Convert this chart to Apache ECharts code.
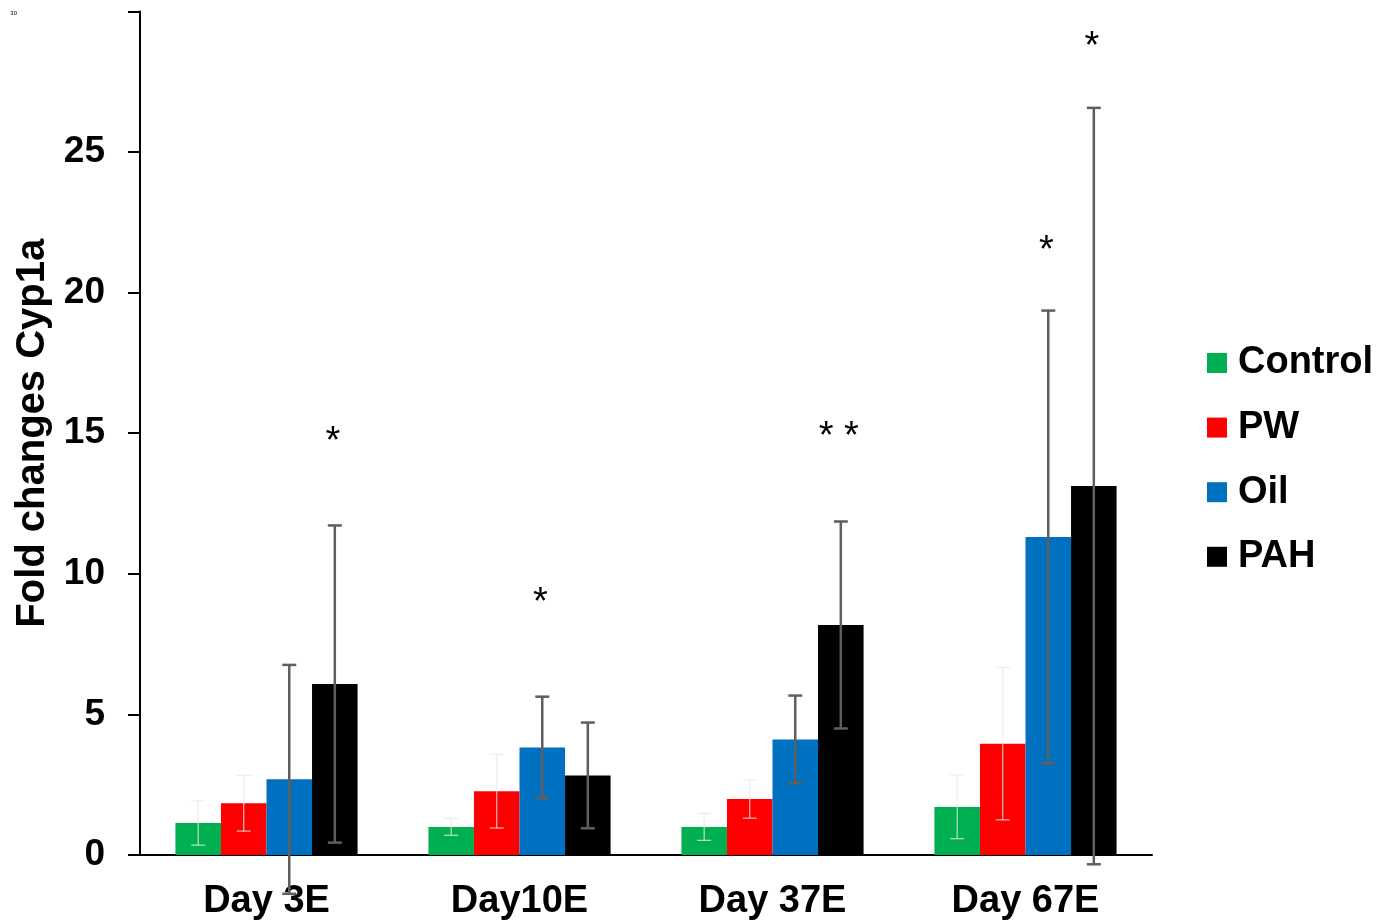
<!DOCTYPE html>
<html>
<head>
<meta charset="utf-8">
<script src="https://cdn.jsdelivr.net/npm/echarts@6/dist/echarts.min.js"></script>
<style>html,body{margin:0;padding:0;background:#fff;}#c{width:1395px;height:922px;}</style>
</head>
<body>
<div id="c"></div>
<script>
const categories = ['Day 3E', 'Day10E', 'Day 37E', 'Day 67E'];
const seriesNames = ['Control', 'PW', 'Oil', 'PAH'];
const seriesColors = ['#00B050', '#FF0000', '#0070C0', '#000000'];
const controlMean = [1.14, 1.00, 1.00, 1.71];
const pwMean = [1.84, 2.27, 1.99, 3.96];
const oilMean = [2.69, 3.82, 4.11, 11.31];
const pahMean = [6.08, 2.83, 8.18, 13.12];
const controlSD = [0.79, 0.30, 0.48, 1.13];
const pwSD = [0.99, 1.31, 0.68, 2.71];
const oilSD = [4.07, 1.81, 1.56, 8.05];
const pahSD = [5.64, 1.88, 3.68, 13.45];
const yTicks = [0, 5, 10, 15, 20, 25, 30];
const starCategory = ['Day 3E', 'Day10E', 'Day 37E', 'Day 67E', 'Day 67E'];
const starSeries = ['PAH', 'Oil', 'PAH', 'Oil', 'PAH'];
const starY = [14.9, 9.2, 15.1, 21.7, 28.95];
const starText = ['*', '*', '* *', '*', '*'];

const means = [controlMean, pwMean, oilMean, pahMean];
const sds = [controlSD, pwSD, oilSD, pahSD];
const FONT = '"Liberation Sans", Arial, Helvetica, sans-serif';
const CAT_GAP = 0.28;
const N = seriesNames.length;

function barCenter(api, catIdx, k) {
  const bandW = api.size([1, 0])[0];
  const bw = bandW * (1 - CAT_GAP) / N;
  return api.coord([catIdx, 0])[0] + (k - (N - 1) / 2) * bw;
}

const series = [];
seriesNames.forEach((name, k) => {
  series.push({
    name: name, type: 'bar', data: means[k],
    barGap: '0%', barCategoryGap: (CAT_GAP * 100) + '%',
    itemStyle: { color: seriesColors[k] },
    z: 2
  });
});
seriesNames.forEach((name, k) => {
  const faint = k < 2;
  series.push({
    name: name + ' err', type: 'custom', z: 5,
    data: means[k].map((m, i) => [i, m - sds[k][i], m + sds[k][i]]),
    encode: { x: 0, y: [1, 2] },
    renderItem: function (params, api) {
      const x = barCenter(api, api.value(0), k);
      const yl = api.coord([0, api.value(1)])[1];
      const yh = api.coord([0, api.value(2)])[1];
      const hw = 7;
      const style = { stroke: faint ? '#e8e8e8' : '#5f5f5f', lineWidth: faint ? 1.2 : 2.5, fill: null, opacity: faint ? 0.8 : 1 };
      return {
        type: 'group',
        children: [
          { type: 'line', shape: { x1: x, y1: yl, x2: x, y2: yh }, style: style },
          { type: 'line', shape: { x1: x - hw, y1: yh, x2: x + hw, y2: yh }, style: style },
          { type: 'line', shape: { x1: x - hw, y1: yl, x2: x + hw, y2: yl }, style: style }
        ]
      };
    }
  });
});
series.push({
  name: 'stars', type: 'custom', z: 6,
  data: starY.map((y, i) => [categories.indexOf(starCategory[i]), y]),
  encode: { x: 0, y: 1 },
  renderItem: function (params, api) {
    const i = params.dataIndex;
    const k = seriesNames.indexOf(starSeries[i]);
    const x = barCenter(api, api.value(0), k);
    const y = api.coord([0, api.value(1)])[1];
    return {
      type: 'text', x: x - 2, y: y + 7,
      style: { text: starText[i], fontSize: 38, fontFamily: FONT, fill: '#000', align: 'center', verticalAlign: 'middle' }
    };
  }
});

const chart = echarts.init(document.getElementById('c'));
chart.setOption({
  animation: false,
  backgroundColor: '#fff',
  grid: { left: 140, right: 243, top: 11.4, bottom: 67, containLabel: false, outerBoundsMode: 'none' },
  legend: {
    data: seriesNames, orient: 'vertical', left: 1202, top: 338,
    itemWidth: 20, itemHeight: 20, itemGap: 24.6, icon: 'rect',
    textStyle: { fontSize: 38, fontWeight: 'bold', color: '#000', fontFamily: FONT, lineHeight: 40, padding: [0, 0, 0, 6] }
  },
  xAxis: {
    type: 'category', data: categories,
    axisLine: { lineStyle: { color: '#000', width: 2 } },
    axisTick: { show: false },
    axisLabel: { fontSize: 38, fontWeight: 'bold', color: '#000', fontFamily: FONT, margin: 28 }
  },
  yAxis: {
    type: 'value', min: yTicks[0], max: yTicks[yTicks.length - 1], interval: yTicks[1] - yTicks[0],
    splitLine: { show: false },
    axisLine: { show: true, lineStyle: { color: '#000', width: 2 } },
    axisTick: { show: true, length: 12, lineStyle: { color: '#000', width: 2 } },
    axisLabel: {
      fontSize: 37, fontWeight: 'bold', color: '#000', fontFamily: FONT, margin: 35,
      formatter: v => v === 30 ? '{tiny|30}' : String(v),
      rich: { tiny: { fontSize: 6, fontWeight: 'normal', color: '#000', fontFamily: FONT, padding: [4, 88, 0, 0] } }
    },
    name: 'Fold changes Cyp1a', nameLocation: 'middle', nameGap: 87, nameMoveOverlap: false,
    nameTextStyle: { fontSize: 40, fontWeight: 'bold', color: '#000', fontFamily: FONT }
  },
  series: series
});
</script>
</body>
</html>
